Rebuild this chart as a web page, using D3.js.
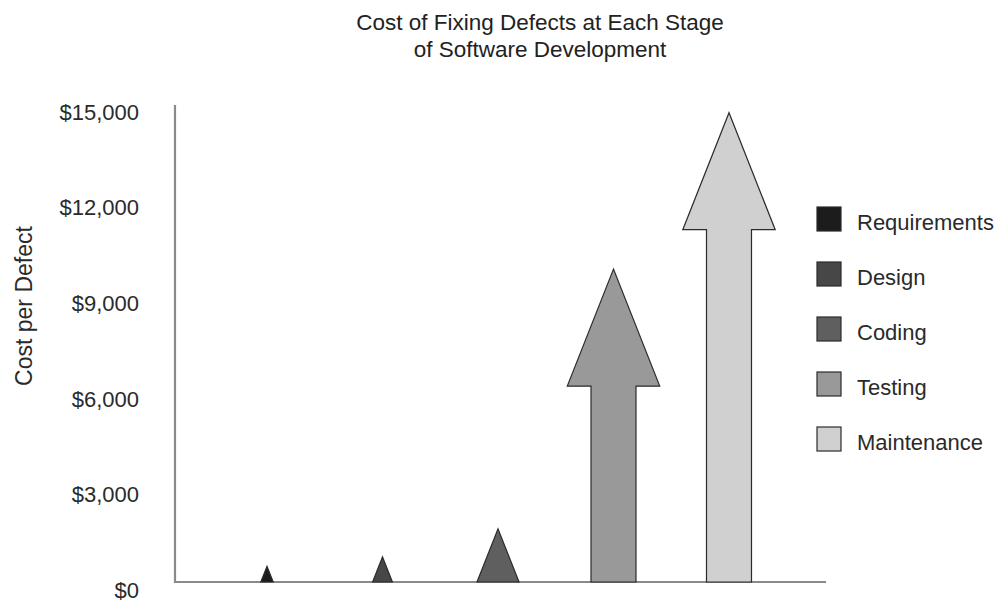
<!DOCTYPE html>
<html>
<head>
<meta charset="utf-8">
<script src="https://cdn.jsdelivr.net/npm/d3@7"></script>
<style>
  html, body { margin: 0; padding: 0; background: #fff; }
  svg { display: block; font-family: "Liberation Sans", Arial, Helvetica, sans-serif; }
</style>
</head>
<body>
<svg id="chart" width="1003" height="603"></svg>
<script>
// ---- data ----
const stages = ["Requirements", "Design", "Coding", "Testing", "Maintenance"];
const costs = [500, 800, 1700, 10000, 15000];
const fills = ["#1c1c1c", "#474747", "#5f5f5f", "#999999", "#d0d0d0"];
const tickValues = [0, 3000, 6000, 9000, 12000, 15000];
const titleLines = ["Cost of Fixing Defects at Each Stage", "of Software Development"];
const yTitle = "Cost per Defect";

// ---- layout ----
const W = 1003, H = 603;
const plot = { left: 175, right: 826, top: 105, bottom: 582 };
const svg = d3.select("#chart");

const y = d3.scaleLinear().domain([0, 15000]).range([plot.bottom, 112.7]);
const yLabels = d3.scaleLinear().domain([0, 15000]).range([590, 112]);
const x = d3.scalePoint().domain(stages).range([267, 729]);

// title
svg.append("g").selectAll("text").data(titleLines).join("text")
  .attr("x", 540).attr("y", (d, i) => 30 + i * 27)
  .attr("text-anchor", "middle")
  .attr("font-size", 22.5).attr("fill", "#222")
  .text(d => d);

// y axis labels
const axis = d3.axisLeft(yLabels)
  .tickValues(tickValues)
  .tickSize(0)
  .tickPadding(0)
  .tickFormat(d => "$" + d3.format(",")(d));
const ag = svg.append("g").attr("transform", "translate(139,0)").call(axis);
ag.select(".domain").remove();
ag.selectAll("text").attr("font-size", 22).attr("fill", "#2a2a2a")
  .attr("dy", "0.33em")
  .attr("font-family", "Liberation Sans, Arial, sans-serif");

// y title
svg.append("text")
  .attr("transform", "translate(32,306) rotate(-90)")
  .attr("text-anchor", "middle")
  .attr("font-size", 23).attr("fill", "#2a2a2a")
  .text(yTitle);

// axis lines
svg.append("path")
  .attr("d", `M${plot.left},${plot.top}V${plot.bottom}H${plot.right}`)
  .attr("fill", "none").attr("stroke", "#8a8a8a").attr("stroke-width", 2.2);

// arrows
const headMax = 117;   // px height of a full arrow head
const headRatio = 0.79; // head width / head height
const shaftW = 45;
function arrowPath(cx, v) {
  const base = y(0), tip = y(v);
  const h = base - tip;
  const hh = Math.min(h, headMax);
  const hw = hh * headRatio / 2;
  const hb = tip + hh;
  if (h <= headMax) {
    return `M${cx - hw},${base}L${cx},${tip}L${cx + hw},${base}Z`;
  }
  const sw = shaftW / 2;
  return `M${cx - sw},${base}V${hb}H${cx - hw}L${cx},${tip}L${cx + hw},${hb}H${cx + sw}V${base}Z`;
}
svg.append("g").selectAll("path").data(stages).join("path")
  .attr("d", (d, i) => arrowPath(x(d), costs[i]))
  .attr("fill", (d, i) => fills[i])
  .attr("stroke", "#2b2b2b").attr("stroke-width", 1.2)
  .attr("stroke-linejoin", "miter");

// legend
const leg = svg.append("g").attr("transform", "translate(817,207)");
const items = leg.selectAll("g").data(stages).join("g")
  .attr("transform", (d, i) => `translate(0,${i * 55})`);
items.append("rect")
  .attr("width", 24).attr("height", 24)
  .attr("fill", (d, i) => fills[i])
  .attr("stroke", "#2b2b2b").attr("stroke-width", 1.2);
items.append("text")
  .attr("x", 40).attr("y", 23)
  .attr("font-size", 22).attr("fill", "#2a2a2a")
  .text(d => d);
</script>
</body>
</html>
